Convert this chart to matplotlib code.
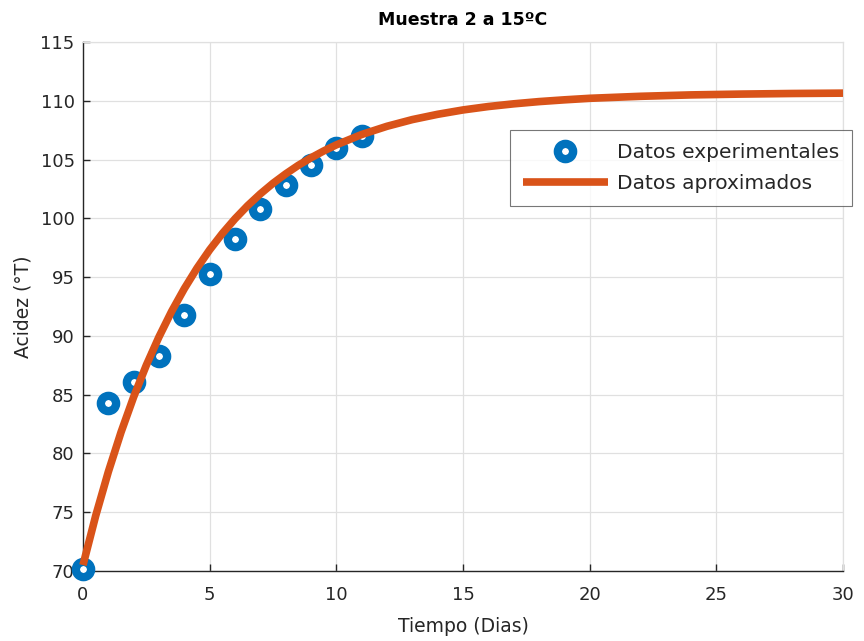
import matplotlib
matplotlib.use("Agg")
import matplotlib.pyplot as plt

# Measured acidity of sample 2 stored at 15 °C
dias = [0, 1, 2, 3, 4, 5, 6, 7, 8, 9, 10, 11]
acidez = [70.2, 84.3, 86.1, 88.3, 91.8, 95.3, 98.2, 100.8, 102.8, 104.5, 106.0, 107.0]

# Approximating model curve (sampled values)
t_modelo = [0, 0.5, 1, 1.5, 2, 2.5, 3, 3.5, 4, 4.5, 5, 5.5, 6, 6.5, 7, 7.5, 8, 8.5,
            9, 9.5, 10, 11, 12, 13, 14, 15, 16, 17, 18, 19, 20, 22, 24, 26, 28, 30]
acidez_modelo = [70.50, 74.69, 78.44, 81.80, 84.81, 87.51, 89.92, 92.09, 94.02,
                 95.76, 97.32, 98.71, 99.96, 101.08, 102.08, 102.98, 103.78,
                 104.51, 105.15, 105.73, 106.25, 107.13, 107.83, 108.40, 108.85,
                 109.22, 109.51, 109.74, 109.93, 110.08, 110.21, 110.38, 110.50,
                 110.57, 110.62, 110.65]

x_ticks = [0, 5, 10, 15, 20, 25, 30]
y_ticks = [70, 75, 80, 85, 90, 95, 100, 105, 110, 115]

azul = (0.0, 0.447, 0.741)
naranja = (0.85, 0.325, 0.098)
texto = "#262626"
rejilla = "#e0e0e0"

plt.rcParams["font.family"] = ["DejaVu Sans"]

fig = plt.figure(figsize=(8.64, 6.41), dpi=100)
ax = fig.add_axes([83 / 864, 1 - 571 / 641, 760 / 864, 529 / 641])

ax.plot(dias, acidez, linestyle="none", marker="o", markersize=11,
        markerfacecolor="white", markeredgecolor=azul, markeredgewidth=6,
        label="Datos experimentales", zorder=3, clip_on=False)
ax.plot(t_modelo, acidez_modelo, color=naranja, linewidth=5.5,
        solid_capstyle="butt", label="Datos aproximados", zorder=4,
        clip_on=False)

ax.set_xlim(0, 30)
ax.set_ylim(70, 115)
ax.set_xticks(x_ticks)
ax.set_yticks(y_ticks)
ax.grid(True, color=rejilla, linewidth=0.9)
ax.set_axisbelow(True)

for lado in ("left", "bottom"):
    ax.spines[lado].set_color(texto)
    ax.spines[lado].set_linewidth(1.0)
for lado in ("top", "right"):
    ax.spines[lado].set_color(rejilla)
    ax.spines[lado].set_linewidth(0.9)

ax.tick_params(axis="both", direction="in", length=5, width=1.0,
               colors=texto, labelsize=13)
ax.tick_params(axis="y", pad=6)
ax.tick_params(axis="x", pad=11)

ax.set_title("Muestra 2 a 15ºC", fontsize=12.5, fontweight="bold",
             color="black", pad=12)
ax.set_xlabel("Tiempo (Dias)", fontsize=13.5, color=texto, labelpad=9)
ax.set_ylabel("Acidez (°T)", fontsize=13.5, color=texto, labelpad=6)

leg = fig.legend(loc="upper left", bbox_to_anchor=(510 / 864, 1 - 130 / 641),
                 fontsize=14.5, frameon=True, fancybox=False,
                 handlelength=4.2, handletextpad=0.45, borderpad=0.65,
                 labelspacing=0.6, borderaxespad=0)
leg.get_frame().set_edgecolor("#555555")
leg.get_frame().set_linewidth(0.8)
for t in leg.get_texts():
    t.set_color(texto)

fig.savefig("out.png", dpi=100, facecolor="white")
